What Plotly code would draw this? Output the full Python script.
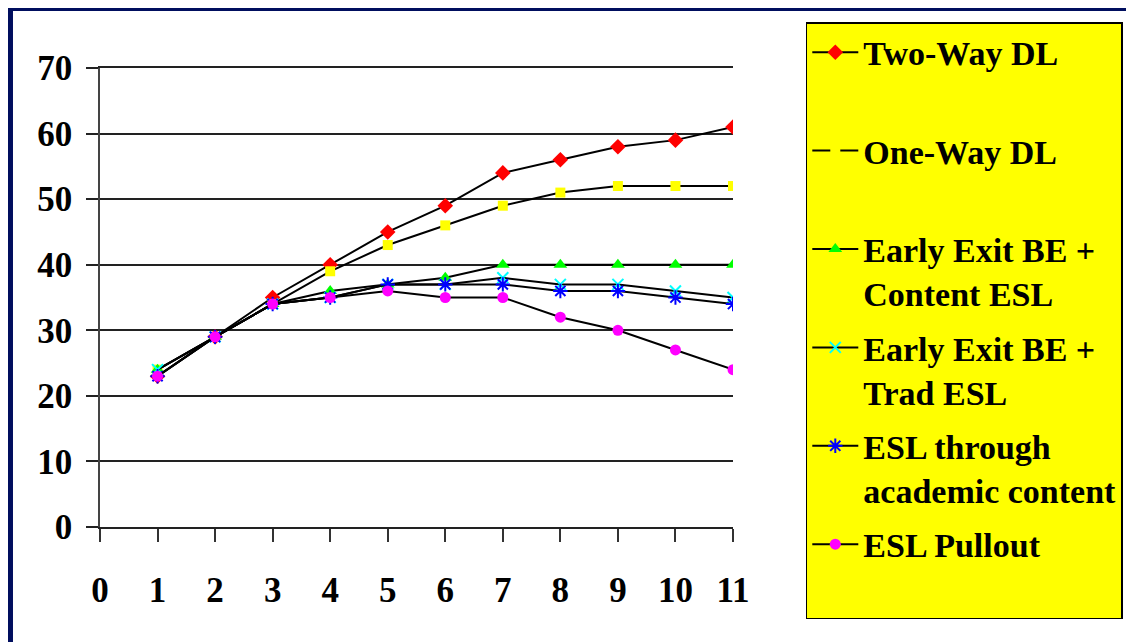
import plotly.graph_objects as go

grades = [1, 2, 3, 4, 5, 6, 7, 8, 9, 10, 11]
two_way = [23, 29, 35, 40, 45, 49, 54, 56, 58, 59, 61]
one_way = [24, 29, 34, 39, 43, 46, 49, 51, 52, 52, 52]
ee_content = [24, 29, 34, 36, 37, 38, 40, 40, 40, 40, 40]
ee_trad = [24, 29, 34, 35, 37, 37, 38, 37, 37, 36, 35]
esl_content = [23, 29, 34, 35, 37, 37, 37, 36, 36, 35, 34]
esl_pullout = [23, 29, 34, 35, 36, 35, 35, 32, 30, 27, 24]

names = ["Two-Way DL<br> ", "One-Way DL<br> ", "Early Exit BE +<br>Content ESL",
         "Early Exit BE +<br>Trad ESL", "ESL through<br>academic content", "ESL Pullout<br> "]
series = [two_way, one_way, ee_content, ee_trad, esl_content, esl_pullout]
styles = [
    dict(symbol="diamond", color="#FF0000", size=12, line=dict(width=0)),
    dict(symbol="square", color="#FFFF00", size=10, line=dict(width=0)),
    dict(symbol="triangle-up", color="#00FF00", size=12, line=dict(width=0)),
    dict(symbol="x-thin-open", color="#00FFFF", size=11, line=dict(width=2, color="#00FFFF")),
    dict(symbol="asterisk-open", color="#0000FF", size=12, line=dict(width=2, color="#0000FF")),
    dict(symbol="circle", color="#FF00FF", size=11, line=dict(width=0)),
]

fig = go.Figure()
for i, (nm, ys, mk) in enumerate(zip(names, series, styles)):
    fig.add_trace(go.Scatter(
        x=grades, y=ys, name=nm, mode="lines+markers",
        line=dict(color="black", width=2),
        marker=mk, legendgroup=f"g{i}",
    ))

font_family = "Liberation Serif"
fig.update_layout(
    width=1134, height=642,
    margin=dict(l=92, r=409, t=60, b=123),
    paper_bgcolor="white", plot_bgcolor="white",
    font=dict(family=font_family, color="black"),
    showlegend=True,
    legend=dict(
        x=1.115, y=1.100, xanchor="left", yanchor="top",
        bgcolor="#FFFF00", bordercolor="black", borderwidth=1.5,
        font=dict(family=font_family, size=34, color="black", weight="bold"),
        valign="top", tracegroupgap=7, itemwidth=46, maxheight=630,
    ),
    xaxis=dict(
        range=[0, 11], tickmode="linear", tick0=0, dtick=1,
        showgrid=False, zeroline=False,
        showline=True, mirror=True, linecolor="#222222", linewidth=1.5,
        ticks="outside", ticklen=13, tickwidth=1.5, tickcolor="#333333",
        ticklabelstandoff=18,
        tickfont=dict(family=font_family, size=35, color="black", weight="bold"),
    ),
    yaxis=dict(
        range=[0, 70], tickmode="linear", tick0=0, dtick=10,
        showgrid=True, gridcolor="#222222", gridwidth=1.5,
        zeroline=False,
        showline=True, linecolor="#444444", linewidth=1.5,
        ticks="outside", ticklen=12, tickwidth=1.5, tickcolor="#222222",
        ticklabelstandoff=7,
        tickfont=dict(family=font_family, size=35, color="black", weight="bold"),
    ),
    shapes=[
        dict(type="rect", xref="paper", yref="paper",
             x0=-0.1422, y0=1.1307, x1=1.8, y1=-0.5,
             line=dict(color="#000E5E", width=6), layer="below"),
    ],
)

fig.write_html("out.html")
